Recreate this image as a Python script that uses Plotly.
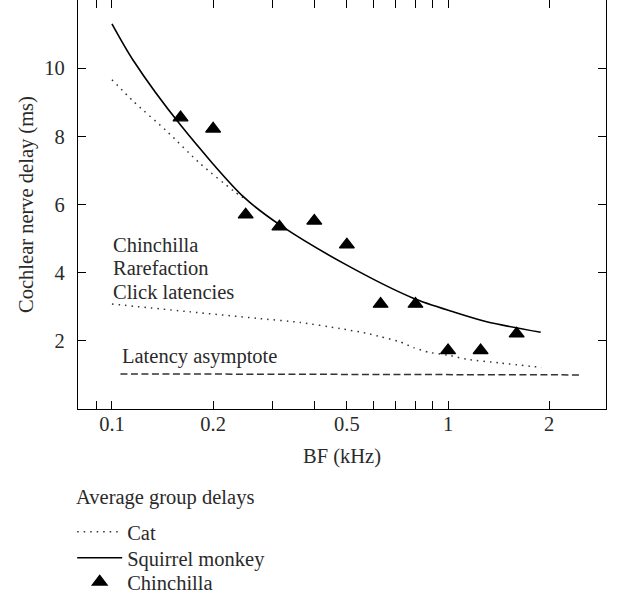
import plotly.graph_objects as go

# ---- data (BF in kHz, delay in ms) ----
monkey_khz = [0.1, 0.1155, 0.16, 0.246, 0.316, 0.5, 0.788, 1.037, 1.303, 1.887]
monkey_ms = [11.3, 10.24, 8.33, 6.23, 5.40, 4.22, 3.25, 2.85, 2.56, 2.25]

cat_khz = [0.1, 0.116, 0.146, 0.183, 0.23, 0.252]
cat_ms = [9.66, 9.02, 8.14, 7.2, 6.4, 6.13]

click_khz = [0.1, 0.171, 0.27, 0.363, 0.4775, 0.573, 0.63, 0.72, 0.79, 0.88, 1.0, 1.137, 1.428, 1.9]
click_ms = [3.08, 2.85, 2.66, 2.54, 2.36, 2.22, 2.12, 1.97, 1.80, 1.66, 1.58, 1.46, 1.35, 1.22]

asym_khz = [0.106, 2.5]
asym_ms = [1.03, 1.0]

chin_khz = [0.16, 0.2, 0.25, 0.315, 0.4, 0.5, 0.63, 0.8, 1.0, 1.25, 1.6]
chin_ms = [8.55, 8.22, 5.70, 5.35, 5.52, 4.82, 3.08, 3.08, 1.72, 1.72, 2.21]

x_tickvals = [0.09, 0.1, 0.2, 0.3, 0.4, 0.5, 0.6, 0.7, 0.8, 0.9, 1, 2]
x_ticktext = ["", "0.1", "0.2", "", "", "0.5", "", "", "", "", "1", "2"]
y_tickvals = [2, 4, 6, 8, 10]
y_ticktext = ["2", "4", "6", "8", "10"]

FONT = "Liberation Serif"
TXT = "#2a2a2a"
FS = 20.5

fig = go.Figure()
fig.add_trace(go.Scatter(x=cat_khz, y=cat_ms, mode="lines", name="Cat", legend="legend",
                         line=dict(color="#333", width=1.5, dash="1.5px,5px", shape="spline", smoothing=0.6)))
fig.add_trace(go.Scatter(x=monkey_khz, y=monkey_ms, mode="lines", name="Squirrel monkey", legend="legend2",
                         line=dict(color="black", width=1.6, shape="spline", smoothing=0.8)))
fig.add_trace(go.Scatter(x=chin_khz, y=chin_ms, mode="markers", name="Chinchilla", legend="legend3",
                         marker=dict(symbol="triangle-up", size=13, color="black",
                                     line=dict(color="black", width=1.2))))
fig.add_trace(go.Scatter(x=click_khz, y=click_ms, mode="lines", showlegend=False,
                         line=dict(color="#333", width=1.5, dash="1.5px,5px", shape="spline", smoothing=0.6)))
fig.add_trace(go.Scatter(x=asym_khz, y=asym_ms, mode="lines", showlegend=False,
                         line=dict(color="#333", width=1.5, dash="7px,3.5px")))

for txt, yv in [("Chinchilla", 4.81), ("Rarefaction", 4.13), ("Click latencies", 3.43)]:
    fig.add_annotation(x=-1.004, y=yv, text=txt, showarrow=False, xanchor="left", yanchor="middle",
                       font=dict(family=FONT, size=FS, color=TXT))
fig.add_annotation(x=-0.975, y=1.53, text="Latency asymptote", showarrow=False, xanchor="left",
                   yanchor="middle", font=dict(family=FONT, size=FS, color=TXT))
fig.add_annotation(xref="paper", yref="paper", x=-0.007, y=-0.2152, text="Average group delays",
                   showarrow=False, xanchor="left", yanchor="middle",
                   font=dict(family=FONT, size=FS, color=TXT))

axis_common = dict(showline=True, linecolor="black", linewidth=1.3, mirror="ticks", ticks="inside",
                   ticklen=8, tickwidth=1.2, tickcolor="black", showgrid=False, zeroline=False,
                   tickfont=dict(family=FONT, size=FS, color=TXT))

fig.update_xaxes(type="log", range=[-1.101, 0.470], tickvals=x_tickvals, ticktext=x_ticktext,
                 title=dict(text="BF (kHz)", font=dict(family=FONT, size=FS, color=TXT), standoff=14),
                 ticklabelstandoff=-4, **axis_common)
fig.update_yaxes(range=[0, 12.0], tickvals=y_tickvals, ticktext=y_ticktext,
                 title=dict(text="Cochlear nerve delay (ms)", font=dict(family=FONT, size=FS, color=TXT), standoff=5),
                 ticklabelstandoff=8, **axis_common)

leg_common = dict(x=-0.011, xanchor="left", yanchor="middle", bgcolor="rgba(0,0,0,0)",
                  font=dict(family=FONT, size=FS, color=TXT), itemwidth=45)

fig.update_layout(
    width=624, height=598,
    margin=dict(l=78, r=18, t=0, b=189, autoexpand=False),
    paper_bgcolor="white", plot_bgcolor="white",
    font=dict(family=FONT, size=FS, color=TXT),
    legend=dict(y=-0.3007, **leg_common),
    legend2=dict(y=-0.3643, **leg_common),
    legend3=dict(y=-0.423, **leg_common),
)

fig.write_html("out.html")
